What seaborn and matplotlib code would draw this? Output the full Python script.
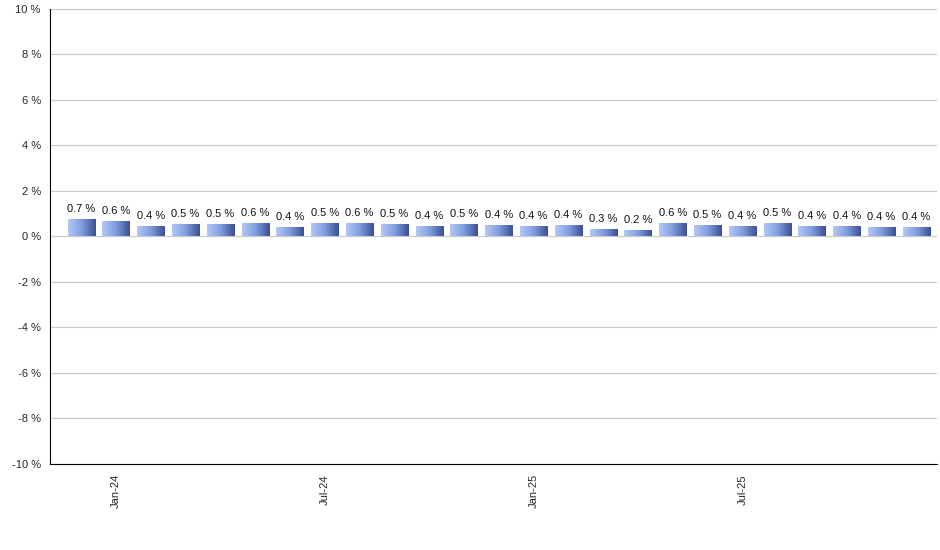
import numpy as np
import pandas as pd
import matplotlib
matplotlib.use("Agg")
import matplotlib.pyplot as plt
import seaborn as sns
from matplotlib.colors import LinearSegmentedColormap

months = pd.date_range("2023-12-01", periods=25, freq="MS").strftime("%b-%y").tolist()
values = [0.72, 0.65, 0.42, 0.52, 0.50, 0.55, 0.38, 0.53, 0.55, 0.50, 0.42, 0.50,
          0.45, 0.42, 0.45, 0.28, 0.24, 0.57, 0.48, 0.42, 0.53, 0.42, 0.42, 0.38, 0.38]
tick_months = ["Jan-24", "Jul-24", "Jan-25", "Jul-25"]

df = pd.DataFrame({"month": months, "value": values})

sns.set_style("white")
plt.rcParams["font.family"] = ["Liberation Sans", "DejaVu Sans"]
fig = plt.figure(figsize=(9.4, 5.5), dpi=100)
ax = fig.add_axes([0.053, 0.157, 0.944, 0.827])

bars = sns.barplot(data=df, x="month", y="value", color="#6f8fd8", width=0.78, ax=ax)

# gradient fill on each bar
cmap = LinearSegmentedColormap.from_list("g", ["#b4c8f4", "#7f9de0", "#3c4f94"])
grad = np.linspace(0, 1, 64).reshape(1, -1)
for p in ax.patches:
    x0, y0 = p.get_x(), p.get_y()
    w, h = p.get_width(), p.get_height()
    p.set_facecolor("none")
    p.set_edgecolor("none")
    ax.imshow(grad, cmap=cmap, aspect="auto", extent=(x0, x0 + w, y0, y0 + h),
              zorder=2, interpolation="bicubic")
    ax.text(x0 + w / 2, y0 + h + 0.25, f"{round(h, 1):.1f} %", ha="center",
            va="bottom", fontsize=8, color="#111111")

ax.set_xlim(-0.9, 24.6)
ax.set_ylim(-10, 10)
ax.set_yticks(range(-10, 11, 2))
ax.set_yticklabels([f"{t} %" for t in range(-10, 11, 2)], fontsize=8)
ax.yaxis.grid(True, color="#c8c8c8", linewidth=0.8)
ax.set_axisbelow(True)
pos = [months.index(m) for m in tick_months]
ax.set_xticks(pos)
ax.set_xticklabels(tick_months, rotation=90, fontsize=8)
ax.tick_params(axis="both", length=4, color="black", direction="out")
ax.tick_params(axis="y", length=3)
ax.set_xlabel("")
ax.set_ylabel("")
for s in ["top", "right"]:
    ax.spines[s].set_visible(False)
for s in ["left", "bottom"]:
    ax.spines[s].set_color("black")
    ax.spines[s].set_linewidth(0.8)

fig.savefig("out.png", dpi=100)
